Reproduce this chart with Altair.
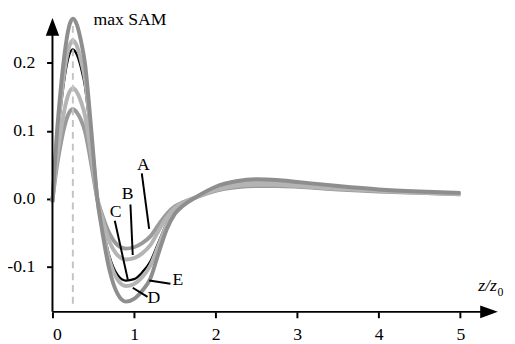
import altair as alt
import pandas as pd

# z/z0 sample positions
x_vals = [0, 0.05, 0.1, 0.15, 0.2, 0.25, 0.3, 0.35, 0.4, 0.45, 0.5, 0.55, 0.6, 0.7, 0.8, 0.9,
          1.0, 1.1, 1.2, 1.3, 1.4, 1.5, 1.6, 1.75, 2.0, 2.25, 2.5, 2.75, 3.0, 3.5, 4.0, 4.5, 5.0]

curve_A = [-0.002, 0.045, 0.08, 0.108, 0.126, 0.132, 0.127, 0.116, 0.099, 0.069, 0.034, 0.0, -0.02,
           -0.051, -0.068, -0.073, -0.071, -0.065, -0.055, -0.038, -0.022, -0.011, -0.005, 0.002,
           0.012, 0.017, 0.019, 0.019, 0.018, 0.014, 0.011, 0.009, 0.007]
curve_B = [-0.003, 0.055, 0.098, 0.133, 0.155, 0.163, 0.157, 0.143, 0.122, 0.085, 0.042, 0.0, -0.024,
           -0.063, -0.083, -0.089, -0.087, -0.08, -0.068, -0.047, -0.027, -0.013, -0.006, 0.002,
           0.013, 0.019, 0.021, 0.021, 0.019, 0.015, 0.012, 0.009, 0.007]
curve_C = [-0.004, 0.075, 0.133, 0.18, 0.21, 0.22, 0.212, 0.193, 0.165, 0.114, 0.056, 0.0, -0.032,
           -0.085, -0.112, -0.12, -0.118, -0.108, -0.092, -0.064, -0.036, -0.018, -0.008, 0.002,
           0.015, 0.022, 0.024, 0.024, 0.022, 0.017, 0.013, 0.010, 0.008]
curve_D = [-0.004, 0.08, 0.14, 0.19, 0.222, 0.233, 0.225, 0.204, 0.175, 0.121, 0.059, 0.0, -0.034,
           -0.09, -0.119, -0.128, -0.125, -0.115, -0.098, -0.068, -0.038, -0.019, -0.008, 0.002,
           0.016, 0.023, 0.026, 0.025, 0.023, 0.018, 0.013, 0.010, 0.008]
curve_E = [-0.005, 0.09, 0.16, 0.215, 0.252, 0.265, 0.256, 0.232, 0.198, 0.137, 0.067, 0.0, -0.04,
           -0.105, -0.14, -0.151, -0.147, -0.135, -0.117, -0.08, -0.045, -0.022, -0.01, 0.002,
           0.018, 0.026, 0.029, 0.028, 0.025, 0.019, 0.014, 0.011, 0.009]

gray_names = ["E", "D", "B", "A"]
gray_colors = ["#8e8e8e", "#b4b4b4", "#b4b4b4", "#9a9a9a"]

# annotation labels and leader lines
label_names = ["A", "B", "C", "D", "E"]
label_x = [1.113, 0.923, 0.773, 1.242, 1.537]
label_y = [0.0426, -0.0007, -0.0267, -0.1537, -0.1263]
lead_x1 = [1.095, 0.956, 0.764, 0.984, 1.186]
lead_y1 = [0.0378, -0.008, -0.032, -0.1306, -0.12]
lead_x2 = [1.185, 0.984, 0.924, 1.165, 1.446]
lead_y2 = [-0.044, -0.0825, -0.1186, -0.144, -0.1248]

x_ticks = [0, 1, 2, 3, 4, 5]
y_ticks = [-0.1, 0.0, 0.1, 0.2]
x_dom = [0, 5.5]
y_dom = [-0.166, 0.27]
peak_x = 0.25

rows = []
for name, vals in zip(["A", "B", "C", "D", "E"], [curve_A, curve_B, curve_C, curve_D, curve_E]):
    for xv, yv in zip(x_vals, vals):
        rows.append({"x": xv, "y": yv, "curve": name})
df = pd.DataFrame(rows)

FONT = "Liberation Serif"
xs = alt.Scale(domain=x_dom, nice=False, zero=False)
ys = alt.Scale(domain=y_dom, nice=False, zero=False)

base = alt.Chart(df)

x_axis = alt.Axis(values=x_ticks, domain=False, grid=False, ticks=True, labelPadding=8,
                  tickSize=6, tickWidth=2, tickColor="black",
                  labelFont=FONT, labelFontSize=18, labelColor="black",
                  title=None, format="d")
y_axis = alt.Axis(values=y_ticks, domain=False, grid=False, ticks=True, labelPadding=12, title=None,
                  tickSize=6, tickWidth=2, tickColor="black",
                  labelFont=FONT, labelFontSize=18, labelColor="black",
                  labelExpr="datum.value < 0 ? '-' + format(-datum.value, '.1f') : format(datum.value, '.1f')")

black = base.transform_filter(alt.datum.curve == "C").mark_line(
    strokeWidth=2.4, color="black", interpolate="monotone"
).encode(x=alt.X("x:Q", scale=xs, axis=x_axis), y=alt.Y("y:Q", scale=ys, axis=y_axis))

grays = base.transform_filter(alt.FieldOneOfPredicate(field="curve", oneOf=gray_names)).mark_line(
    strokeWidth=4, interpolate="monotone"
).encode(
    x=alt.X("x:Q", scale=xs, axis=x_axis),
    y=alt.Y("y:Q", scale=ys, axis=y_axis),
    color=alt.Color("curve:N", scale=alt.Scale(domain=gray_names, range=gray_colors), legend=None),
    detail="curve:N",
)

dash_df = pd.DataFrame({"x": [peak_x], "y": [-0.154], "y2": [0.262]})
dashed = alt.Chart(dash_df).mark_rule(color="#c4c4c4", strokeWidth=2, strokeDash=[7, 5]).encode(
    x=alt.X("x:Q", scale=xs), y=alt.Y("y:Q", scale=ys), y2="y2:Q"
)

# axes lines with arrows
xaxis_df = pd.DataFrame({"x": [0.0], "x2": [5.35], "y": [y_dom[0]]})
xaxis = alt.Chart(xaxis_df).mark_rule(color="black", strokeWidth=2).encode(
    x=alt.X("x:Q", scale=xs), x2="x2:Q", y=alt.Y("y:Q", scale=ys)
)
yaxis_df = pd.DataFrame({"x": [0.0], "y": [y_dom[0]], "y2": [0.245]})
yaxis = alt.Chart(yaxis_df).mark_rule(color="black", strokeWidth=2).encode(
    x=alt.X("x:Q", scale=xs), y=alt.Y("y:Q", scale=ys), y2="y2:Q"
)
xarrow = alt.Chart(pd.DataFrame({"x": [5.46], "y": [y_dom[0]]})).mark_point(
    shape="M -1 -0.36 L 0 0 L -1 0.36 Z", size=1296, filled=True, color="black", opacity=1
).encode(x=alt.X("x:Q", scale=xs), y=alt.Y("y:Q", scale=ys))
yarrow = alt.Chart(pd.DataFrame({"x": [0.0], "y": [0.266]})).mark_point(
    shape="M -0.38 1 L 0 0 L 0.38 1 Z", size=1296, filled=True, color="black", opacity=1
).encode(x=alt.X("x:Q", scale=xs), y=alt.Y("y:Q", scale=ys))

lead_df = pd.DataFrame({"x": lead_x1, "y": lead_y1, "x2": lead_x2, "y2": lead_y2})
leaders = alt.Chart(lead_df).mark_rule(color="black", strokeWidth=2).encode(
    x=alt.X("x:Q", scale=xs), y=alt.Y("y:Q", scale=ys), x2="x2:Q", y2="y2:Q"
)
lab_df = pd.DataFrame({"x": label_x, "y": label_y, "t": label_names})
labels = alt.Chart(lab_df).mark_text(font=FONT, fontSize=18, align="center", baseline="alphabetic",
                                     color="black").encode(
    x=alt.X("x:Q", scale=xs), y=alt.Y("y:Q", scale=ys), text="t:N"
)

title_df = pd.DataFrame({"x": [0.502], "y": [0.256], "t": ["max SAM"]})
title_txt = alt.Chart(title_df).mark_text(font=FONT, fontSize=18, align="left", baseline="alphabetic",
                                          color="black").encode(
    x=alt.X("x:Q", scale=xs), y=alt.Y("y:Q", scale=ys), text="t:N"
)

zlab = alt.Chart(pd.DataFrame({"x": [5.448], "y": [-0.135], "t": ["z/z"]})).mark_text(
    font=FONT, fontSize=18, fontStyle="italic", align="right", baseline="alphabetic", color="black"
).encode(x=alt.X("x:Q", scale=xs), y=alt.Y("y:Q", scale=ys), text="t:N")
zsub = alt.Chart(pd.DataFrame({"x": [5.455], "y": [-0.1425], "t": ["0"]})).mark_text(
    font=FONT, fontSize=12, align="left", baseline="alphabetic", color="black"
).encode(x=alt.X("x:Q", scale=xs), y=alt.Y("y:Q", scale=ys), text="t:N")

chart = alt.layer(
    black, grays, dashed, xaxis, yaxis, xarrow, yarrow, leaders, labels, title_txt, zlab, zsub
).properties(
    width=457, height=302,
    background="white",
    autosize=alt.AutoSizeParams(type="none"),
    padding={"left": 45.3, "top": 4.4, "right": 6, "bottom": 29},
).configure_view(stroke=None)

chart.save("out.html", embed_options={"renderer": "svg", "actions": False})
